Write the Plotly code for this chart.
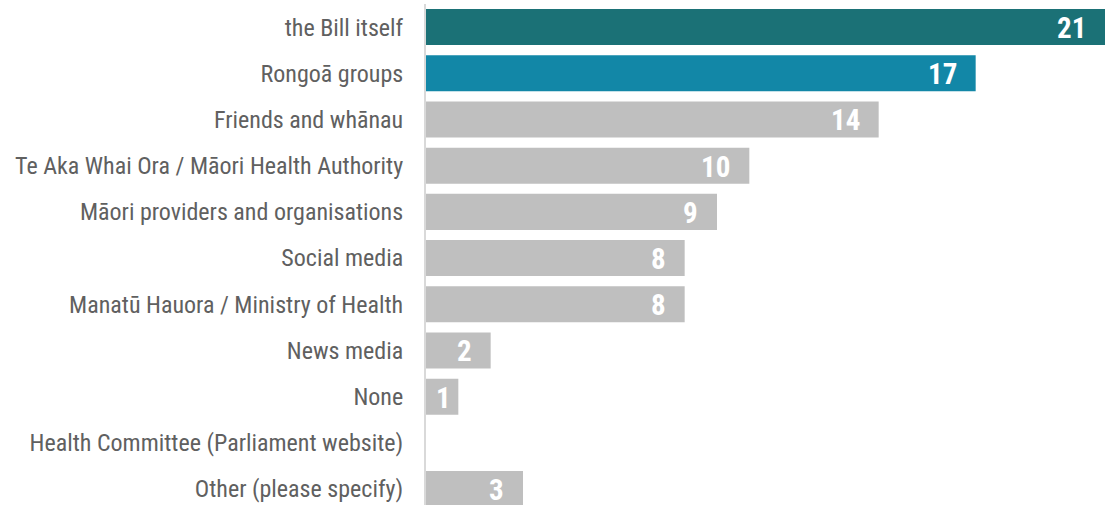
import plotly.graph_objects as go

categories = [
    "the Bill itself",
    "Rongoā groups",
    "Friends and whānau",
    "Te Aka Whai Ora / Māori Health Authority",
    "Māori providers and organisations",
    "Social media",
    "Manatū Hauora / Ministry of Health",
    "News media",
    "None",
    "Health Committee (Parliament website)",
    "Other (please specify)",
]
values = [21, 17, 14, 10, 9, 8, 8, 2, 1, 0, 3]
bar_colors = ["#1b7176", "#1287a7"] + ["#bfbfbf"] * 9

FONT = "Liberation Sans Narrow, Arial Narrow, Roboto Condensed, sans-serif"

W, H = 1107, 505
ML, MR, MT, MB = 426, 2, 4, 0
XMAX = 21
px_per_unit = (W - ML - MR) / XMAX

fig = go.Figure()
fig.add_trace(go.Bar(
    y=categories,
    x=values,
    orientation="h",
    marker=dict(color=bar_colors, line=dict(width=0)),
    hoverinfo="x+y",
))

annotations = []
for cat, v in zip(categories, values):
    if v <= 0:
        continue
    shift = -17 if v * px_per_unit > 45 else -5
    annotations.append(dict(
        x=v, y=cat, xref="x", yref="y",
        text=str(v), showarrow=False,
        xanchor="right", yanchor="middle", xshift=shift, yshift=-1,
        font=dict(family=FONT, size=29, color="white", weight="bold"),
    ))

fig.update_layout(
    width=W, height=H,
    margin=dict(l=ML, r=MR, t=MT, b=MB, pad=0),
    paper_bgcolor="white", plot_bgcolor="white",
    showlegend=False,
    bargap=0.22,
    annotations=annotations,
    xaxis=dict(range=[0, XMAX], visible=False, fixedrange=True),
    yaxis=dict(
        type="category",
        categoryorder="array", categoryarray=categories,
        range=[10.345, -0.5],
        showline=True, linecolor="#d9d9d9", linewidth=2,
        showgrid=False, zeroline=False, ticks="",
        ticklabelstandoff=16,
        tickfont=dict(family=FONT, size=24, color="#606060"),
        fixedrange=True,
    ),
)

fig.write_html("out.html", config={"displayModeBar": False})
